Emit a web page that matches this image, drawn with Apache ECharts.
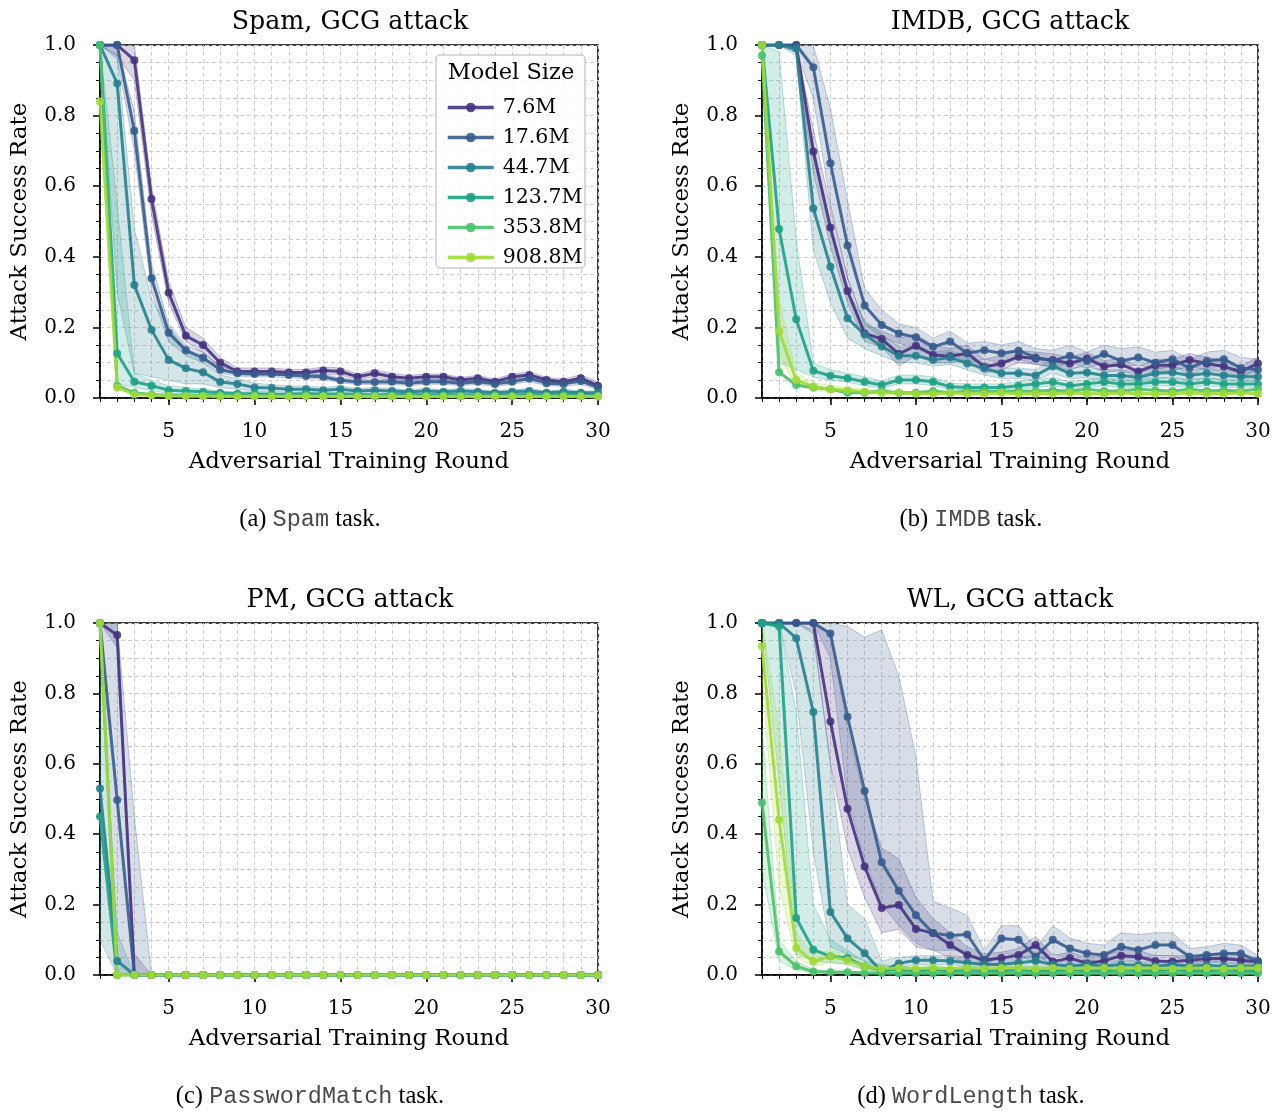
<!DOCTYPE html>
<html><head><meta charset="utf-8">
<script src="https://cdn.jsdelivr.net/npm/echarts@6/dist/echarts.min.js"></script>
<style>html,body{margin:0;padding:0;background:#fff}#c{width:1283px;height:1114px}</style>
</head><body><div id="c"></div>
<script>
// ---------- data ----------
const ROUNDS = [1,2,3,4,5,6,7,8,9,10,11,12,13,14,15,16,17,18,19,20,21,22,23,24,25,26,27,28,29,30];
const MODEL_SIZES = ['7.6M','17.6M','44.7M','123.7M','353.8M','908.8M'];
const COLORS = ['#46337f','#365c8d','#277f8e','#1fa187','#4ac16d','#a0da39'];
const X_TICKS = [5,10,15,20,25,30];
const PANEL_TITLES = ['Spam, GCG attack','IMDB, GCG attack','PM, GCG attack','WL, GCG attack'];
const CAPTION_TAGS = ['(a) ','(b) ','(c) ','(d) '];
const CAPTION_TASKS = ['Spam','IMDB','PasswordMatch','WordLength'];

// Spam
const spam_7_6M   = [1.0,1.0,0.957,0.564,0.298,0.176,0.150,0.100,0.075,0.075,0.075,0.072,0.072,0.078,0.075,0.060,0.070,0.060,0.056,0.060,0.060,0.051,0.056,0.046,0.060,0.065,0.051,0.046,0.056,0.035];
const spam_17_6M  = [1.0,1.0,0.757,0.339,0.185,0.135,0.114,0.080,0.070,0.068,0.068,0.065,0.062,0.060,0.050,0.045,0.045,0.046,0.042,0.046,0.046,0.042,0.046,0.040,0.046,0.055,0.042,0.040,0.048,0.030];
const spam_44_7M  = [1.0,0.891,0.320,0.193,0.108,0.084,0.073,0.045,0.040,0.030,0.028,0.025,0.025,0.022,0.025,0.020,0.022,0.020,0.018,0.020,0.018,0.020,0.018,0.015,0.018,0.020,0.015,0.018,0.015,0.015];
const spam_123_7M = [1.0,0.126,0.046,0.035,0.022,0.020,0.018,0.015,0.012,0.012,0.010,0.010,0.012,0.010,0.010,0.010,0.008,0.010,0.010,0.008,0.010,0.008,0.008,0.010,0.008,0.010,0.008,0.010,0.008,0.008];
const spam_353_8M = [1.0,0.035,0.015,0.010,0.008,0.008,0.007,0.008,0.006,0.007,0.006,0.006,0.007,0.006,0.006,0.006,0.005,0.006,0.006,0.005,0.006,0.005,0.005,0.006,0.005,0.006,0.005,0.006,0.005,0.005];
const spam_908_8M = [0.84,0.030,0.010,0.008,0.006,0.005,0.005,0.004,0.004,0.004,0.004,0.004,0.004,0.004,0.004,0.004,0.004,0.004,0.004,0.004,0.004,0.004,0.004,0.004,0.004,0.004,0.004,0.004,0.004,0.004];
// IMDB
const imdb_7_6M   = [1.0,1.0,1.0,0.698,0.483,0.303,0.183,0.167,0.125,0.148,0.122,0.118,0.127,0.088,0.098,0.117,0.112,0.108,0.098,0.112,0.089,0.095,0.075,0.093,0.093,0.108,0.098,0.089,0.075,0.098];
const imdb_17_6M  = [1.0,1.0,1.0,0.937,0.665,0.432,0.262,0.207,0.183,0.172,0.145,0.160,0.127,0.135,0.127,0.134,0.115,0.105,0.120,0.105,0.125,0.105,0.115,0.100,0.110,0.085,0.105,0.110,0.085,0.080];
const imdb_44_7M  = [1.0,1.0,0.99,0.537,0.372,0.226,0.180,0.146,0.120,0.120,0.108,0.115,0.098,0.084,0.070,0.070,0.064,0.090,0.070,0.072,0.064,0.064,0.058,0.070,0.072,0.064,0.070,0.064,0.060,0.060];
const imdb_123_7M = [1.0,0.479,0.223,0.077,0.063,0.056,0.046,0.037,0.051,0.051,0.046,0.032,0.030,0.030,0.030,0.035,0.040,0.045,0.035,0.040,0.045,0.040,0.040,0.045,0.045,0.040,0.045,0.040,0.040,0.040];
const imdb_353_8M = [0.97,0.073,0.037,0.030,0.025,0.015,0.015,0.020,0.015,0.015,0.020,0.015,0.020,0.020,0.018,0.020,0.020,0.022,0.020,0.025,0.020,0.020,0.025,0.022,0.020,0.025,0.020,0.022,0.020,0.025];
const imdb_908_8M = [1.0,0.19,0.051,0.032,0.025,0.022,0.018,0.015,0.015,0.012,0.012,0.015,0.012,0.012,0.015,0.012,0.012,0.012,0.015,0.012,0.012,0.015,0.012,0.012,0.012,0.015,0.012,0.012,0.015,0.012];
// PasswordMatch
const pm_7_6M   = [1.0,0.966,0,0,0,0,0,0,0,0,0,0,0,0,0,0,0,0,0,0,0,0,0,0,0,0,0,0,0,0];
const pm_17_6M  = [1.0,0.497,0,0,0,0,0,0,0,0,0,0,0,0,0,0,0,0,0,0,0,0,0,0,0,0,0,0,0,0];
const pm_44_7M  = [0.53,0.04,0,0,0,0,0,0,0,0,0,0,0,0,0,0,0,0,0,0,0,0,0,0,0,0,0,0,0,0];
const pm_123_7M = [0.45,0,0,0,0,0,0,0,0,0,0,0,0,0,0,0,0,0,0,0,0,0,0,0,0,0,0,0,0,0];
const pm_353_8M = [1.0,0,0,0,0,0,0,0,0,0,0,0,0,0,0,0,0,0,0,0,0,0,0,0,0,0,0,0,0,0];
const pm_908_8M = [1.0,0,0,0,0,0,0,0,0,0,0,0,0,0,0,0,0,0,0,0,0,0,0,0,0,0,0,0,0,0];
// WordLength
const wl_7_6M   = [1.0,1.0,1.0,1.0,0.72,0.472,0.308,0.19,0.199,0.131,0.119,0.085,0.057,0.042,0.048,0.057,0.085,0.038,0.048,0.033,0.040,0.055,0.052,0.040,0.038,0.042,0.047,0.047,0.042,0.038];
const wl_17_6M  = [1.0,1.0,1.0,1.0,0.97,0.734,0.523,0.32,0.239,0.17,0.119,0.112,0.115,0.042,0.104,0.10,0.052,0.10,0.075,0.061,0.057,0.08,0.071,0.085,0.085,0.052,0.057,0.061,0.061,0.038];
const wl_44_7M  = [1.0,1.0,0.957,0.747,0.179,0.104,0.062,0.009,0.033,0.042,0.042,0.040,0.035,0.030,0.030,0.035,0.040,0.030,0.025,0.030,0.025,0.030,0.028,0.025,0.030,0.025,0.028,0.025,0.025,0.025];
const wl_123_7M = [1.0,0.99,0.162,0.072,0.053,0.048,0.024,0.015,0.015,0.012,0.015,0.012,0.015,0.012,0.012,0.015,0.012,0.012,0.015,0.012,0.012,0.015,0.012,0.012,0.015,0.012,0.012,0.015,0.012,0.012];
const wl_353_8M = [0.489,0.067,0.025,0.010,0.008,0.008,0.006,0.006,0.005,0.005,0.005,0.005,0.005,0.005,0.005,0.005,0.005,0.005,0.005,0.005,0.005,0.005,0.005,0.005,0.005,0.005,0.005,0.005,0.005,0.005];
const wl_908_8M = [0.934,0.441,0.077,0.038,0.053,0.042,0.024,0.018,0.020,0.018,0.020,0.018,0.020,0.018,0.020,0.020,0.018,0.020,0.018,0.020,0.020,0.018,0.020,0.020,0.018,0.020,0.020,0.018,0.020,0.020];

// Uncertainty bands (lower / upper), only where visible
const spamBand_7_6M_lo  = [1.0,0.97,0.90,0.52,0.27,0.16,0.13,0.085,0.065,0.065,0.065,0.063,0.063,0.068,0.065,0.052,0.060,0.050,0.048,0.052,0.052,0.044,0.048,0.040,0.052,0.056,0.044,0.039,0.046,0.028];
const spamBand_7_6M_hi  = [1.0,1.0,1.0,0.60,0.33,0.20,0.17,0.115,0.085,0.085,0.085,0.081,0.081,0.088,0.085,0.068,0.080,0.070,0.064,0.068,0.068,0.058,0.064,0.054,0.068,0.074,0.058,0.054,0.066,0.045];
const spamBand_17_6M_lo = [1.0,0.96,0.70,0.30,0.16,0.12,0.10,0.07,0.062,0.06,0.06,0.057,0.055,0.053,0.043,0.038,0.038,0.039,0.035,0.039,0.039,0.035,0.039,0.033,0.039,0.046,0.035,0.033,0.038,0.024];
const spamBand_17_6M_hi = [1.0,1.0,0.81,0.38,0.21,0.15,0.13,0.09,0.078,0.076,0.076,0.073,0.07,0.067,0.057,0.052,0.052,0.053,0.049,0.053,0.053,0.049,0.053,0.047,0.053,0.064,0.049,0.047,0.058,0.036];
const spamBand_44_7M_lo = [1.0,0.30,0.07,0.06,0.05,0.04,0.04,0.03,0.025,0.02,0.018,0.016,0.016,0.014,0.016,0.013,0.014,0.013,0.012,0.013,0.012,0.013,0.012,0.010,0.012,0.013,0.010,0.012,0.010,0.010];
const spamBand_44_7M_hi = [1.0,0.97,0.48,0.28,0.20,0.14,0.10,0.065,0.055,0.042,0.038,0.034,0.034,0.030,0.034,0.027,0.030,0.027,0.024,0.027,0.024,0.027,0.024,0.020,0.024,0.027,0.020,0.024,0.020,0.020];
const spamBand_123_7M_lo = [1.0,0.04,0.03,0.022,0.012,0.012,0.011,0.010,0.008,0.008,0.006,0.006,0.008,0.006,0.006,0.006,0.005,0.006,0.006,0.005,0.006,0.005,0.005,0.006,0.005,0.006,0.005,0.006,0.005,0.005];
const spamBand_123_7M_hi = [1.0,0.55,0.07,0.05,0.035,0.030,0.025,0.020,0.018,0.018,0.015,0.015,0.017,0.015,0.015,0.015,0.012,0.015,0.015,0.012,0.015,0.012,0.012,0.015,0.012,0.015,0.012,0.015,0.012,0.012];

const imdbBand_7_6M_lo  = [1,1,0.98,0.64,0.43,0.27,0.16,0.145,0.09,0.12,0.10,0.10,0.105,0.07,0.08,0.10,0.095,0.09,0.08,0.095,0.072,0.078,0.06,0.076,0.076,0.09,0.08,0.072,0.06,0.08];
const imdbBand_7_6M_hi  = [1,1,1,0.76,0.54,0.34,0.21,0.19,0.17,0.18,0.15,0.14,0.15,0.11,0.12,0.135,0.13,0.125,0.115,0.13,0.106,0.112,0.09,0.11,0.11,0.126,0.116,0.106,0.09,0.116];
const imdbBand_17_6M_lo = [1,1,0.98,0.85,0.55,0.34,0.21,0.17,0.155,0.14,0.12,0.13,0.10,0.11,0.10,0.11,0.095,0.085,0.10,0.085,0.10,0.085,0.095,0.08,0.09,0.065,0.085,0.09,0.065,0.06];
const imdbBand_17_6M_hi = [1,1,1,1,0.82,0.56,0.31,0.25,0.21,0.20,0.17,0.19,0.155,0.16,0.15,0.16,0.14,0.135,0.15,0.13,0.15,0.14,0.145,0.13,0.135,0.11,0.13,0.135,0.115,0.11];
const imdbBand_44_7M_lo = [1,1,0.97,0.42,0.27,0.17,0.14,0.12,0.10,0.10,0.09,0.095,0.08,0.065,0.055,0.055,0.05,0.07,0.055,0.057,0.05,0.05,0.045,0.055,0.057,0.05,0.055,0.05,0.047,0.047];
const imdbBand_44_7M_hi = [1,1,1,0.72,0.48,0.30,0.22,0.18,0.145,0.14,0.13,0.135,0.115,0.10,0.085,0.085,0.08,0.11,0.085,0.088,0.08,0.08,0.072,0.085,0.088,0.08,0.085,0.08,0.074,0.074];
const imdbBand_123_7M_lo = [1,0.10,0.08,0.06,0.05,0.045,0.035,0.028,0.04,0.04,0.035,0.024,0.022,0.022,0.022,0.026,0.03,0.034,0.026,0.03,0.034,0.03,0.03,0.034,0.034,0.03,0.034,0.03,0.03,0.03];
const imdbBand_123_7M_hi = [1,0.98,0.45,0.10,0.08,0.07,0.06,0.048,0.065,0.065,0.06,0.042,0.04,0.04,0.04,0.046,0.052,0.058,0.046,0.052,0.058,0.052,0.052,0.058,0.058,0.052,0.058,0.052,0.052,0.052];
const imdbBand_908_8M_lo = [1.0,0.12,0.035,0.022,0.018,0.015,0.012,0.01,0.01,0.008,0.008,0.01,0.008,0.008,0.01,0.008,0.008,0.008,0.01,0.008,0.008,0.01,0.008,0.008,0.008,0.01,0.008,0.008,0.01,0.008];
const imdbBand_908_8M_hi = [1.0,0.28,0.07,0.045,0.035,0.03,0.025,0.02,0.02,0.017,0.017,0.02,0.017,0.017,0.02,0.017,0.017,0.017,0.02,0.017,0.017,0.02,0.017,0.017,0.017,0.02,0.017,0.017,0.02,0.017];

const pmBand_7_6M_lo  = [1.0,0.93,0,0,0,0,0,0,0,0,0,0,0,0,0,0,0,0,0,0,0,0,0,0,0,0,0,0,0,0];
const pmBand_7_6M_hi  = [1.0,1.0,0.06,0,0,0,0,0,0,0,0,0,0,0,0,0,0,0,0,0,0,0,0,0,0,0,0,0,0,0];
const pmBand_17_6M_lo = [1.0,0.0,0,0,0,0,0,0,0,0,0,0,0,0,0,0,0,0,0,0,0,0,0,0,0,0,0,0,0,0];
const pmBand_17_6M_hi = [1.0,1.0,0.45,0,0,0,0,0,0,0,0,0,0,0,0,0,0,0,0,0,0,0,0,0,0,0,0,0,0,0];
const pmBand_44_7M_lo = [0.10,0,0,0,0,0,0,0,0,0,0,0,0,0,0,0,0,0,0,0,0,0,0,0,0,0,0,0,0,0];
const pmBand_44_7M_hi = [0.95,0.12,0,0,0,0,0,0,0,0,0,0,0,0,0,0,0,0,0,0,0,0,0,0,0,0,0,0,0,0];

const wlBand_7_6M_lo  = [1,1,1,0.97,0.6,0.36,0.22,0.12,0.13,0.08,0.07,0.05,0.035,0.025,0.03,0.04,0.06,0.025,0.03,0.02,0.025,0.04,0.035,0.025,0.025,0.03,0.035,0.035,0.03,0.025];
const wlBand_7_6M_hi  = [1,1,1,1,0.97,0.7,0.5,0.36,0.33,0.22,0.16,0.12,0.08,0.06,0.065,0.075,0.11,0.055,0.065,0.05,0.055,0.07,0.07,0.055,0.055,0.055,0.06,0.06,0.055,0.05];
const wlBand_17_6M_lo = [1,1,1,1,0.9,0.5,0.33,0.2,0.14,0.09,0.07,0.07,0.07,0.025,0.06,0.06,0.03,0.06,0.045,0.04,0.04,0.05,0.045,0.055,0.055,0.035,0.04,0.04,0.04,0.025];
const wlBand_17_6M_hi = [1,1,1,1,1,0.99,0.96,0.98,0.85,0.62,0.21,0.19,0.17,0.07,0.14,0.14,0.075,0.14,0.105,0.09,0.085,0.12,0.115,0.12,0.12,0.075,0.08,0.09,0.085,0.055];
const wlBand_44_7M_lo = [1,1,0.8,0.35,0.08,0.06,0.04,0.005,0.02,0.03,0.03,0.03,0.025,0.02,0.02,0.02,0.025,0.02,0.018,0.02,0.018,0.02,0.02,0.018,0.02,0.018,0.02,0.018,0.018,0.018];
const wlBand_44_7M_hi = [1,1,1,0.98,0.6,0.2,0.16,0.04,0.05,0.055,0.055,0.055,0.05,0.045,0.045,0.05,0.055,0.045,0.035,0.045,0.035,0.045,0.04,0.035,0.045,0.035,0.04,0.035,0.035,0.035];
const wlBand_123_7M_lo = [1,0.55,0.06,0.04,0.035,0.03,0.015,0.008,0.008,0.006,0.008,0.006,0.008,0.006,0.006,0.008,0.006,0.006,0.008,0.006,0.006,0.008,0.006,0.006,0.008,0.006,0.006,0.008,0.006,0.006];
const wlBand_123_7M_hi = [1,1,0.75,0.2,0.1,0.07,0.04,0.03,0.025,0.02,0.025,0.02,0.025,0.02,0.02,0.025,0.02,0.02,0.025,0.02,0.02,0.025,0.02,0.02,0.025,0.02,0.02,0.025,0.02,0.02];
const wlBand_353_8M_lo = [0.3,0.04,0.015,0.005,0.004,0.004,0.003,0.003,0.003,0.003,0.003,0.003,0.003,0.003,0.003,0.003,0.003,0.003,0.003,0.003,0.003,0.003,0.003,0.003,0.003,0.003,0.003,0.003,0.003,0.003];
const wlBand_353_8M_hi = [0.7,0.1,0.04,0.016,0.012,0.012,0.009,0.009,0.008,0.008,0.008,0.008,0.008,0.008,0.008,0.008,0.008,0.008,0.008,0.008,0.008,0.008,0.008,0.008,0.008,0.008,0.008,0.008,0.008,0.008];
const wlBand_908_8M_lo = [0.85,0.25,0.05,0.025,0.035,0.03,0.015,0.012,0.013,0.012,0.013,0.012,0.013,0.012,0.013,0.013,0.012,0.013,0.012,0.013,0.013,0.012,0.013,0.013,0.012,0.013,0.013,0.012,0.013,0.013];
const wlBand_908_8M_hi = [1,0.7,0.12,0.06,0.07,0.06,0.035,0.025,0.028,0.025,0.028,0.025,0.028,0.025,0.028,0.028,0.025,0.028,0.025,0.028,0.028,0.025,0.028,0.028,0.025,0.028,0.028,0.025,0.028,0.028];

// ---------- assembly ----------
const PANEL_VALUES = [
  [spam_7_6M, spam_17_6M, spam_44_7M, spam_123_7M, spam_353_8M, spam_908_8M],
  [imdb_7_6M, imdb_17_6M, imdb_44_7M, imdb_123_7M, imdb_353_8M, imdb_908_8M],
  [pm_7_6M, pm_17_6M, pm_44_7M, pm_123_7M, pm_353_8M, pm_908_8M],
  [wl_7_6M, wl_17_6M, wl_44_7M, wl_123_7M, wl_353_8M, wl_908_8M]
];
const PANEL_BANDS = [
  [[0, spamBand_7_6M_lo, spamBand_7_6M_hi],[1, spamBand_17_6M_lo, spamBand_17_6M_hi],[2, spamBand_44_7M_lo, spamBand_44_7M_hi],[3, spamBand_123_7M_lo, spamBand_123_7M_hi]],
  [[0, imdbBand_7_6M_lo, imdbBand_7_6M_hi],[1, imdbBand_17_6M_lo, imdbBand_17_6M_hi],[2, imdbBand_44_7M_lo, imdbBand_44_7M_hi],[3, imdbBand_123_7M_lo, imdbBand_123_7M_hi],[5, imdbBand_908_8M_lo, imdbBand_908_8M_hi]],
  [[0, pmBand_7_6M_lo, pmBand_7_6M_hi],[1, pmBand_17_6M_lo, pmBand_17_6M_hi],[2, pmBand_44_7M_lo, pmBand_44_7M_hi]],
  [[0, wlBand_7_6M_lo, wlBand_7_6M_hi],[1, wlBand_17_6M_lo, wlBand_17_6M_hi],[2, wlBand_44_7M_lo, wlBand_44_7M_hi],[3, wlBand_123_7M_lo, wlBand_123_7M_hi],[4, wlBand_353_8M_lo, wlBand_353_8M_hi],[5, wlBand_908_8M_lo, wlBand_908_8M_hi]]
];

const GRIDS = [
  {left:100, top:45, width:498, height:353},
  {left:762, top:45, width:496, height:353},
  {left:100, top:623, width:498, height:352},
  {left:762, top:623, width:496, height:352}
];
const TITLE_POS = [[350,22],[1010,22],[350,600],[1010,600]];
const CAPTION_POS = [[310,520],[971,520],[310,1097],[971,1097]];

const SERIF = 'DejaVu Serif';
function hexA(hex, a){const n=parseInt(hex.slice(1),16);return `rgba(${n>>16&255},${n>>8&255},${n&255},${a})`;}

const chart = echarts.init(document.getElementById('c'), null, {renderer:'canvas'});
const xAxes=[], yAxes=[], series=[], graphics=[];
const dash = {type:[4,3], color:'#cfcfcf', width:1};

GRIDS.forEach((g,i)=>{
  xAxes.push({
    gridIndex:i, type:'value', min:1, max:30, interval:1,
    axisLine:{show:true, onZero:false, lineStyle:{color:'#000', width:1.5}},
    axisTick:{show:true, length:4, lineStyle:{color:'#000', width:1}},
    axisLabel:{formatter:v=>X_TICKS.includes(v)?String(v):'', fontFamily:SERIF, fontSize:20, color:'#000', margin:24},
    splitLine:{show:true, lineStyle:dash},
    name:'Adversarial Training Round', nameLocation:'middle', nameGap:53,
    nameTextStyle:{fontFamily:SERIF, fontSize:22.8, color:'#000'}
  });
  xAxes.push({
    gridIndex:i, type:'value', min:1, max:30, position:'bottom',
    axisLine:{show:false}, axisLabel:{show:false}, splitLine:{show:false},
    axisTick:{show:true, customValues:X_TICKS, length:7, lineStyle:{color:'#000', width:1.5}}
  });
  yAxes.push({
    gridIndex:i, type:'value', min:0, max:1, interval:0.2,
    axisLine:{show:true, onZero:false, lineStyle:{color:'#000', width:1.5}},
    axisTick:{show:true, length:7, lineStyle:{color:'#000', width:1.5}},
    minorTick:{show:true, splitNumber:4, length:4, lineStyle:{color:'#000', width:1}},
    splitLine:{show:true, lineStyle:dash},
    minorSplitLine:{show:true, lineStyle:dash},
    axisLabel:{formatter:v=>v.toFixed(1), fontFamily:SERIF, fontSize:20, color:'#000', margin:24},
    name:'Attack Success Rate', nameLocation:'middle', nameGap:68,
    nameTextStyle:{fontFamily:SERIF, fontSize:23, color:'#000'}
  });
  // bands
  PANEL_BANDS[i].forEach(([s, lo, hi])=>{
    const col = COLORS[s];
    series.push({
      type:'custom', name:'band', xAxisIndex:2*i, yAxisIndex:i, silent:true, z:1, clip:true,
      data: ROUNDS.map((r,k)=>[r, lo[k], hi[k]]),
      encode:{x:0, y:[1,2]},
      renderItem:(params, api)=>{
        if (params.dataIndex !== 0) return null;
        const pts=[];
        for (let k=0;k<ROUNDS.length;k++) pts.push(api.coord([ROUNDS[k], hi[k]]));
        for (let k=ROUNDS.length-1;k>=0;k--) pts.push(api.coord([ROUNDS[k], lo[k]]));
        return {type:'polygon', shape:{points:pts}, style:{fill:hexA(col,0.2), stroke:hexA(col,0.3), lineWidth:1}};
      }
    });
  });
  // lines
  PANEL_VALUES[i].forEach((vals,s)=>{
    series.push({
      type:'line', name:MODEL_SIZES[s], xAxisIndex:2*i, yAxisIndex:i, z:3,
      data: ROUNDS.map((r,k)=>[r, vals[k]]),
      symbol:'circle', symbolSize:8, showSymbol:true, clip:true,
      lineStyle:{width:3, color:COLORS[s], opacity:0.9},
      itemStyle:{color:COLORS[s], opacity:0.9},
      emphasis:{disabled:true}
    });
  });
  graphics.push({type:'text', x:TITLE_POS[i][0], y:TITLE_POS[i][1], z:10,
    style:{text:PANEL_TITLES[i], fontFamily:SERIF, fontSize:25.3, fill:'#000', align:'center', verticalAlign:'middle'}});
  graphics.push({type:'text', x:CAPTION_POS[i][0], y:CAPTION_POS[i][1], z:10,
    style:{text:'{a|'+CAPTION_TAGS[i]+'}{b|'+CAPTION_TASKS[i]+'}{a| task.}', align:'center', verticalAlign:'middle',
      rich:{a:{fontFamily:'Liberation Serif', fontSize:24.5, fill:'#000'}, b:{fontFamily:'Liberation Mono', fontSize:23.5, fill:'#4a4a4a'}}}});
});

// legend frame + title
graphics.push({type:'rect', z:5, shape:{x:436, y:55, width:149, height:213, r:4},
  style:{fill:'rgba(255,255,255,0.85)', stroke:'#cccccc', lineWidth:1.5}});
graphics.push({type:'text', z:6, x:511, y:73,
  style:{text:'Model Size', fontFamily:SERIF, fontSize:22.5, fill:'#000', align:'center', verticalAlign:'middle'}});

chart.setOption({
  animation:false,
  backgroundColor:'#fff',
  grid: GRIDS.map(g=>Object.assign({show:true, borderColor:'#000', borderWidth:1.5, backgroundColor:'transparent', containLabel:false}, g)),
  xAxis: xAxes, yAxis: yAxes, series: series, graphic: graphics,
  legend:{data:MODEL_SIZES, orient:'vertical', left:441, top:92, z:7,
    itemWidth:46, itemHeight:12, itemGap:9,
    lineStyle:{width:3.5},
    textStyle:{fontFamily:SERIF, fontSize:20.5, color:'#000', lineHeight:20, padding:[0,0,0,4]},
    selectedMode:false}
});
</script></body></html>
